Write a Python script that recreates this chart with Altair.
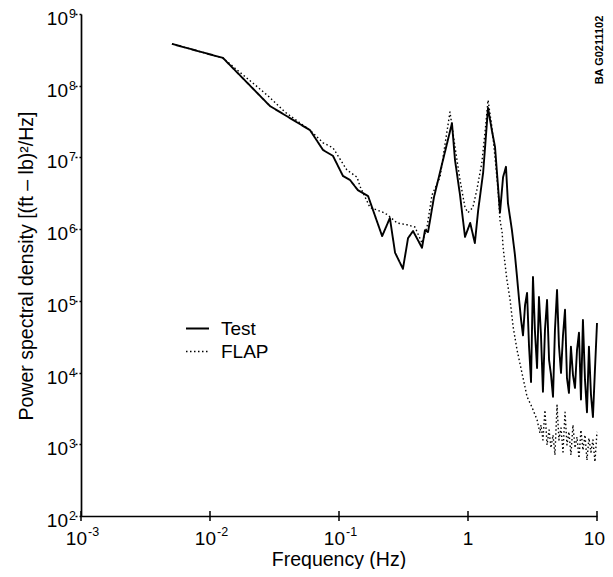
import altair as alt
import pandas as pd

# ---------------- data ----------------
series_names = ["Test", "FLAP"]

test_freq = [0.00507, 0.0126, 0.0292, 0.0596, 0.0752, 0.0898, 0.1074, 0.1217, 0.140, 0.168,
             0.216, 0.248, 0.272, 0.313, 0.343, 0.375, 0.440, 0.464, 0.490, 0.545,
             0.640, 0.751, 0.793, 0.867, 0.948, 1.04, 1.13, 1.20, 1.31, 1.43,
             1.53, 1.62, 1.71, 1.77, 1.87, 1.97, 2.04, 2.19, 2.31,
             2.40, 2.49, 2.58, 2.67, 2.77, 2.87, 2.97, 3.08, 3.19, 3.30,
             3.43, 3.55, 3.68, 3.81, 3.95, 4.10, 4.25, 4.40, 4.56, 4.72,
             4.90, 5.07, 5.26, 5.45, 5.65, 5.85, 6.06, 6.28, 6.51, 6.75,
             7.00, 7.25, 7.51, 7.78, 8.07, 8.36, 8.66, 8.98, 9.30, 9.64, 10.0]
test_psd = [3.83e8, 2.44e8, 5.2e7, 2.4e7, 1.27e7, 1.05e7, 5.5e6, 4.85e6, 3.5e6, 2.9e6,
            8.0e5, 1.43e6, 4.7e5, 2.8e5, 7.5e5, 9.4e5, 5.5e5, 9.7e5, 9.1e5, 2.8e6,
            9.2e6, 3.0e7, 9.2e6, 3.0e6, 7.8e5, 1.22e6, 6.4e5, 1.85e6, 6.1e6, 4.9e7,
            2.4e7, 1.4e7, 3.9e6, 1.7e6, 5.3e6, 7.4e6, 2.3e6, 9.7e5, 4.4e5,
            2.15e5, 1.03e5, 5.4e4, 3.3e4, 8.8e4, 1.29e5, 2.4e4, 7.4e3, 2.15e5, 3.9e4,
            1.16e4, 1.13e5, 3.3e4, 5.4e3, 3.9e4, 1.03e5, 1.5e4, 9.3e3, 4.6e3, 3.9e4,
            1.42e5, 2.4e4, 9.9e3, 3.3e4, 7.5e4, 8.4e3, 5.2e3, 2.3e4, 9.3e3, 6.1e3,
            2.07e4, 3.6e4, 4.2e3, 5.4e4, 7.9e3, 2.8e3, 2.3e4, 4.9e3, 2.4e3, 1.09e4, 4.9e4]

flap_freq = [0.00507, 0.0126, 0.0162, 0.0223, 0.0282, 0.0381, 0.0596, 0.0752, 0.0898, 0.115,
             0.138, 0.146, 0.174, 0.216, 0.236, 0.282, 0.336, 0.388, 0.440, 0.481,
             0.526, 0.607, 0.675, 0.725, 0.793, 0.867, 0.948, 1.0, 1.09, 1.17,
             1.28, 1.36, 1.43, 1.53, 1.62, 1.71, 1.77, 1.84, 1.87, 2.0,
             2.12, 2.24, 2.40, 2.62, 2.87, 3.13, 3.43, 3.61,
             3.68, 3.81, 3.95, 4.10, 4.25, 4.40, 4.56, 4.72, 4.90, 5.07,
             5.26, 5.45, 5.65, 5.85, 6.06, 6.28, 6.51, 6.75, 7.00, 7.25,
             7.51, 7.78, 8.07, 8.36, 8.66, 8.98, 9.30, 9.64, 10.0]
flap_psd = [3.83e8, 2.44e8, 1.66e8, 1.03e8, 7.2e7, 4.3e7, 2.4e7, 1.6e7, 1.36e7, 6.7e6,
            5.3e6, 3.9e6, 2.0e6, 1.74e6, 1.6e6, 1.22e6, 1.15e6, 1.07e6, 6.4e5, 1.07e6,
            3.0e6, 5.3e6, 1.87e7, 4.3e7, 1.4e7, 4.85e6, 2.0e6, 1.7e6, 2.0e6, 3.5e6,
            8.4e6, 2.4e7, 6.3e7, 2.7e7, 1.0e7, 3.5e6, 1.34e6, 8.9e5, 5.6e5, 2.0e5,
            1.03e5, 4.3e4, 2.07e4, 9.9e3, 4.6e3, 3.3e3, 2.2e3, 1.44e3,
            1.86e3, 1.15e3, 3.0e3, 9.8e2, 1.58e3, 8.9e2, 1.35e3, 7.1e2, 3.5e3, 1.15e3,
            1.69e3, 7.8e2, 2.8e3, 9.8e2, 1.49e3, 7.1e2, 1.86e3, 8.9e2, 1.26e3, 6.4e2,
            1.58e3, 8.3e2, 1.35e3, 6.0e2, 1.22e3, 7.8e2, 1.15e3, 5.7e2, 1.49e3]

y_tick_values = [1e2, 1e3, 1e4, 1e5, 1e6, 1e7, 1e8, 1e9]
y_tick_exponents = ["2", "3", "4", "5", "6", "7", "8", "9"]
x_pow_values = [0.001, 0.01, 0.1]
x_pow_exponents = ["-3", "-2", "-1"]
x_plain_values = [1, 10]
x_plain_labels = ["1", "10"]

x_title = "Frequency (Hz)"
y_title = "Power spectral density [(ft \u2013 lb)\u00b2/Hz]"
figure_id = "BA G0211102"

# ---------------- layout / style ----------------
FONT = "Liberation Sans, Arial, Helvetica, sans-serif"
W, H = 516, 502

df = pd.concat([
    pd.DataFrame({"freq": test_freq, "psd": test_psd, "series": series_names[0]}),
    pd.DataFrame({"freq": flap_freq, "psd": flap_psd, "series": series_names[1]}),
])

xs = alt.Scale(type="log", domain=[0.001, 10], nice=False)
ys = alt.Scale(type="log", domain=[100, 1e9], nice=False)

x_axis = alt.Axis(labels=False, ticks=False, grid=False, title=None,
                  domainColor="black", domainWidth=1.7)
y_axis = alt.Axis(labels=False, grid=False, title=None, values=y_tick_values,
                  ticks=True, tickSize=7, tickDash=[2, 2], tickColor="black",
                  tickWidth=1.5, domainColor="black", domainWidth=1.7)

legend = alt.Legend(orient="none", legendX=104, legendY=302, title=None,
                    symbolType="stroke", symbolSize=529, symbolStrokeColor="black",
                    labelFont=FONT, labelFontSize=19, labelColor="black",
                    labelOffset=11, rowPadding=0, padding=0)

lines = alt.Chart(df).mark_line(color="black", strokeCap="butt", strokeJoin="round").encode(
    x=alt.X("freq:Q", scale=xs, axis=x_axis),
    y=alt.Y("psd:Q", scale=ys, axis=y_axis),
    strokeDash=alt.StrokeDash("series:N",
                              scale=alt.Scale(domain=series_names, range=[[1, 0], [1.5, 2.5]]),
                              legend=legend),
    strokeWidth=alt.StrokeWidth("series:N",
                                scale=alt.Scale(domain=series_names, range=[1.9, 1.4]),
                                legend=legend),
)

xt_df = pd.DataFrame({"v": x_pow_values + x_plain_values})
xticks = alt.Chart(xt_df).mark_rule(color="black", strokeWidth=1.5).encode(
    x=alt.X("v:Q", scale=xs, axis=x_axis),
    y=alt.value(H - 5), y2=alt.value(H + 5))

ydf = pd.DataFrame({"v": y_tick_values, "e": y_tick_exponents})
y10 = alt.Chart(ydf).mark_text(align="right", baseline="alphabetic", dy=11,
                               font=FONT, fontSize=19, color="black").encode(
    y=alt.Y("v:Q", scale=ys, axis=y_axis), x=alt.value(-13), text=alt.value("10"))
yexp = alt.Chart(ydf).mark_text(align="left", baseline="alphabetic", dy=4,
                                font=FONT, fontSize=12.5, color="black").encode(
    y=alt.Y("v:Q", scale=ys, axis=y_axis), x=alt.value(-12), text="e:N")

xdf = pd.DataFrame({"v": x_pow_values, "e": x_pow_exponents})
x10 = alt.Chart(xdf).mark_text(align="right", baseline="alphabetic", dx=6,
                               font=FONT, fontSize=19, color="black").encode(
    x=alt.X("v:Q", scale=xs, axis=x_axis), y=alt.value(H + 29), text=alt.value("10"))
xexp = alt.Chart(xdf).mark_text(align="left", baseline="alphabetic", dx=7,
                                font=FONT, fontSize=12.5, color="black").encode(
    x=alt.X("v:Q", scale=xs, axis=x_axis), y=alt.value(H + 20), text="e:N")
xpdf = pd.DataFrame({"v": x_plain_values, "t": x_plain_labels})
xplain_mid = alt.Chart(xpdf).transform_filter(alt.datum.v < 5).mark_text(
    align="center", baseline="alphabetic", font=FONT, fontSize=19, color="black").encode(
    x=alt.X("v:Q", scale=xs, axis=x_axis), y=alt.value(H + 29), text="t:N")
xplain_end = alt.Chart(xpdf).transform_filter(alt.datum.v > 5).mark_text(
    align="right", baseline="alphabetic", dx=8, font=FONT, fontSize=19, color="black").encode(
    x=alt.X("v:Q", scale=xs, axis=x_axis), y=alt.value(H + 29), text="t:N")

xt = alt.Chart(pd.DataFrame({"t": [x_title]})).mark_text(
    align="center", baseline="alphabetic", font=FONT, fontSize=19.5, color="black").encode(
    x=alt.value(W / 2), y=alt.value(H + 50), text="t:N")
yt = alt.Chart(pd.DataFrame({"t": [y_title]})).mark_text(
    align="center", baseline="middle", angle=270, font=FONT, fontSize=19.5, color="black").encode(
    x=alt.value(-54), y=alt.value(252), text="t:N")
idt = alt.Chart(pd.DataFrame({"t": [figure_id]})).mark_text(
    align="center", baseline="middle", angle=270, font=FONT, fontSize=11,
    fontWeight="bold", color="black").encode(
    x=alt.value(W + 3), y=alt.value(36), text="t:N")

chart = alt.layer(lines, xticks, y10, yexp, x10, xexp, xplain_mid, xplain_end,
                  xt, yt, idt).properties(
    width=W, height=H,
    autosize=alt.AutoSizeParams(type="none"),
    padding={"left": 73, "top": 6, "right": 8, "bottom": 53},
).configure_view(stroke=None)

chart.save("out.html", embed_options={"renderer": "svg", "actions": False})
